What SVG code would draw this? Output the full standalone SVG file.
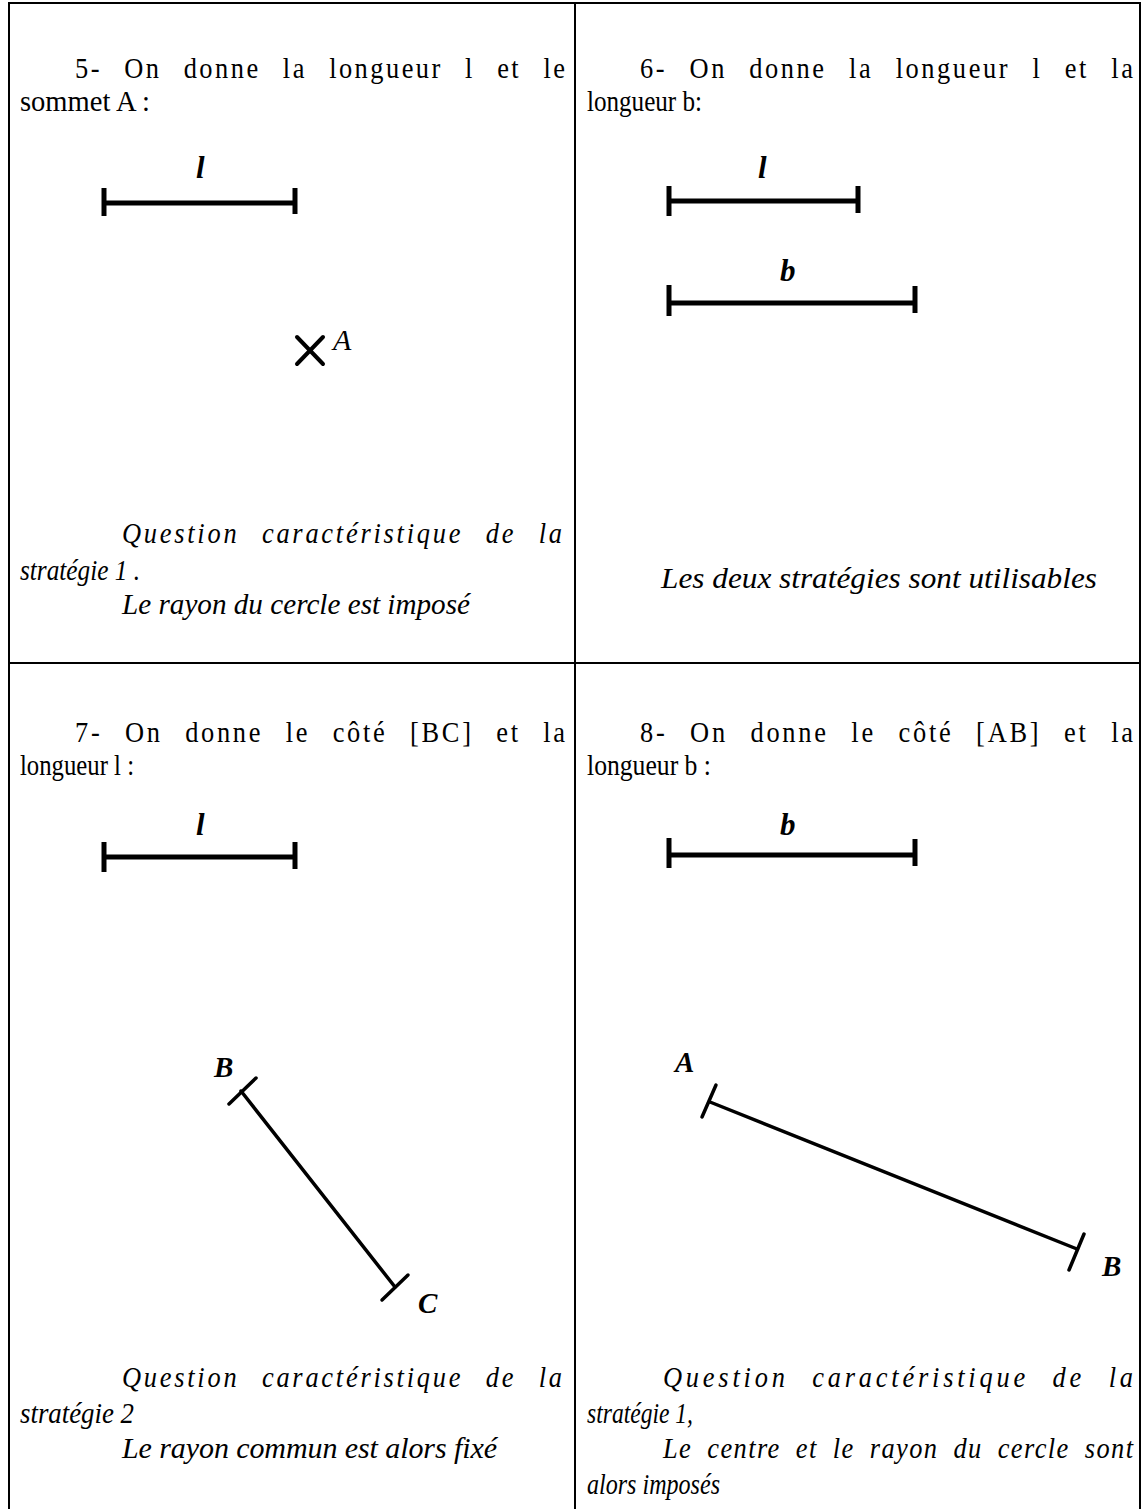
<svg xmlns="http://www.w3.org/2000/svg" width="1141" height="1509" viewBox="0 0 1141 1509">
<style>
.t{font-family:"Liberation Serif","Times New Roman",serif;font-size:30px;fill:#000}
.i{font-style:italic}
.j{word-spacing:15px}
.lab{font-family:"Liberation Serif","Times New Roman",serif;font-size:31px;font-style:italic;font-weight:bold;fill:#000}
.pt{font-family:"Liberation Serif","Times New Roman",serif;font-size:29px;font-style:italic;font-weight:bold;fill:#000}
.grid{stroke:#000;stroke-width:2;fill:none}
.seg{stroke:#000;stroke-width:5;fill:none}
.tick{stroke:#000;stroke-width:5;fill:none}
.thin{stroke:#000;stroke-width:3.5;fill:none;stroke-linecap:round}
</style>
<rect width="1141" height="1509" fill="#fff"/>
<g id="table">
<line class="grid" x1="8" y1="3" x2="1141" y2="3"/>
<line class="grid" x1="8" y1="663" x2="1141" y2="663"/>
<line class="grid" x1="9" y1="2" x2="9" y2="1509"/>
<line class="grid" x1="575" y1="2" x2="575" y2="1509"/>
<line class="grid" x1="1140" y1="2" x2="1140" y2="1509"/>
</g>
<g id="cell5">
<text class="t j" transform="matrix(0.88 0 0 1 75 78)" x="0" y="0" textLength="556.8" lengthAdjust="spacing">5- On donne la longueur l et le</text>
<text class="t" x="20" y="111" textLength="130" lengthAdjust="spacingAndGlyphs">sommet A :</text>
<text class="lab" x="196" y="178">l</text>
<g id="seg5l">
<line class="seg" x1="104" y1="203" x2="295" y2="203"/>
<line class="tick" x1="104" y1="188" x2="104" y2="216"/>
<line class="tick" x1="295" y1="188" x2="295" y2="214"/>
</g>
<g id="pointA5">
<line class="thin" x1="297" y1="337" x2="323" y2="364" style="stroke-width:4"/>
<line class="thin" x1="323" y1="337" x2="297" y2="364" style="stroke-width:4"/>
<text class="t i" x="333" y="350">A</text>
</g>
<text class="t i j" transform="matrix(0.88 0 0 1 122 543)" x="0" y="0" textLength="500" lengthAdjust="spacing">Question caractéristique de la</text>
<text class="t i" x="20" y="580" textLength="120" lengthAdjust="spacingAndGlyphs">stratégie 1 .</text>
<text class="t i" x="122" y="614" textLength="348" lengthAdjust="spacingAndGlyphs">Le rayon du cercle est imposé</text>
</g>
<g id="cell6">
<text class="t j" transform="matrix(0.88 0 0 1 640 78)" x="0" y="0" textLength="560.2" lengthAdjust="spacing">6- On donne la longueur l et la</text>
<text class="t" x="587" y="111" textLength="115" lengthAdjust="spacingAndGlyphs">longueur b:</text>
<text class="lab" x="758" y="178">l</text>
<g id="seg6l">
<line class="seg" x1="669" y1="201" x2="858" y2="201"/>
<line class="tick" x1="669" y1="186" x2="669" y2="216"/>
<line class="tick" x1="858" y1="186" x2="858" y2="213"/>
</g>
<text class="lab" x="780" y="281">b</text>
<g id="seg6b">
<line class="seg" x1="669" y1="303" x2="915" y2="303"/>
<line class="tick" x1="669" y1="285" x2="669" y2="316"/>
<line class="tick" x1="915" y1="286" x2="915" y2="313"/>
</g>
<text class="t i" x="661" y="588" textLength="436" lengthAdjust="spacingAndGlyphs">Les deux stratégies sont utilisables</text>
</g>
<g id="cell7">
<text class="t j" transform="matrix(0.88 0 0 1 75 742)" x="0" y="0" textLength="556.8" lengthAdjust="spacing">7- On donne le côté [BC] et la</text>
<text class="t" x="20" y="775" textLength="114" lengthAdjust="spacingAndGlyphs">longueur l :</text>
<text class="lab" x="196" y="835">l</text>
<g id="seg7l">
<line class="seg" x1="104" y1="857" x2="295" y2="857"/>
<line class="tick" x1="104" y1="842" x2="104" y2="872"/>
<line class="tick" x1="295" y1="842" x2="295" y2="869"/>
</g>
<g id="segBC">
<line class="thin" x1="241" y1="1091" x2="395" y2="1287"/>
<line class="thin" x1="229" y1="1104" x2="256" y2="1078"/>
<line class="thin" x1="382" y1="1300" x2="408" y2="1275"/>
<text class="pt" x="214" y="1077">B</text>
<text class="pt" x="418" y="1313">C</text>
</g>
<text class="t i j" transform="matrix(0.88 0 0 1 122 1387)" x="0" y="0" textLength="500" lengthAdjust="spacing">Question caractéristique de la</text>
<text class="t i" x="20" y="1423" textLength="114" lengthAdjust="spacingAndGlyphs">stratégie 2</text>
<text class="t i" x="122" y="1458" textLength="375" lengthAdjust="spacing">Le rayon commun est alors fixé</text>
</g>
<g id="cell8">
<text class="t j" transform="matrix(0.88 0 0 1 640 742)" x="0" y="0" textLength="560.2" lengthAdjust="spacing">8- On donne le côté [AB] et la</text>
<text class="t" x="587" y="775" textLength="124" lengthAdjust="spacingAndGlyphs">longueur b :</text>
<text class="lab" x="780" y="835">b</text>
<g id="seg8b">
<line class="seg" x1="669" y1="855" x2="915" y2="855"/>
<line class="tick" x1="669" y1="838" x2="669" y2="868"/>
<line class="tick" x1="915" y1="839" x2="915" y2="866"/>
</g>
<g id="segAB">
<line class="thin" x1="710" y1="1102" x2="1077" y2="1249"/>
<line class="thin" x1="702" y1="1117" x2="716" y2="1085"/>
<line class="thin" x1="1069" y1="1270" x2="1084" y2="1234"/>
<text class="pt" x="675" y="1072">A</text>
<text class="pt" x="1102" y="1276">B</text>
</g>
<text class="t i j" transform="matrix(0.88 0 0 1 663 1387)" x="0" y="0" textLength="534.1" lengthAdjust="spacing">Question caractéristique de la</text>
<text class="t i" x="587" y="1423" textLength="106" lengthAdjust="spacingAndGlyphs">stratégie 1,</text>
<text class="t i" transform="matrix(0.88 0 0 1 663 1458)" x="0" y="0" style="word-spacing:8px" textLength="534.1" lengthAdjust="spacing">Le centre et le rayon du cercle sont</text>
<text class="t i" x="587" y="1494" textLength="133" lengthAdjust="spacingAndGlyphs">alors imposés</text>
</g>
</svg>
